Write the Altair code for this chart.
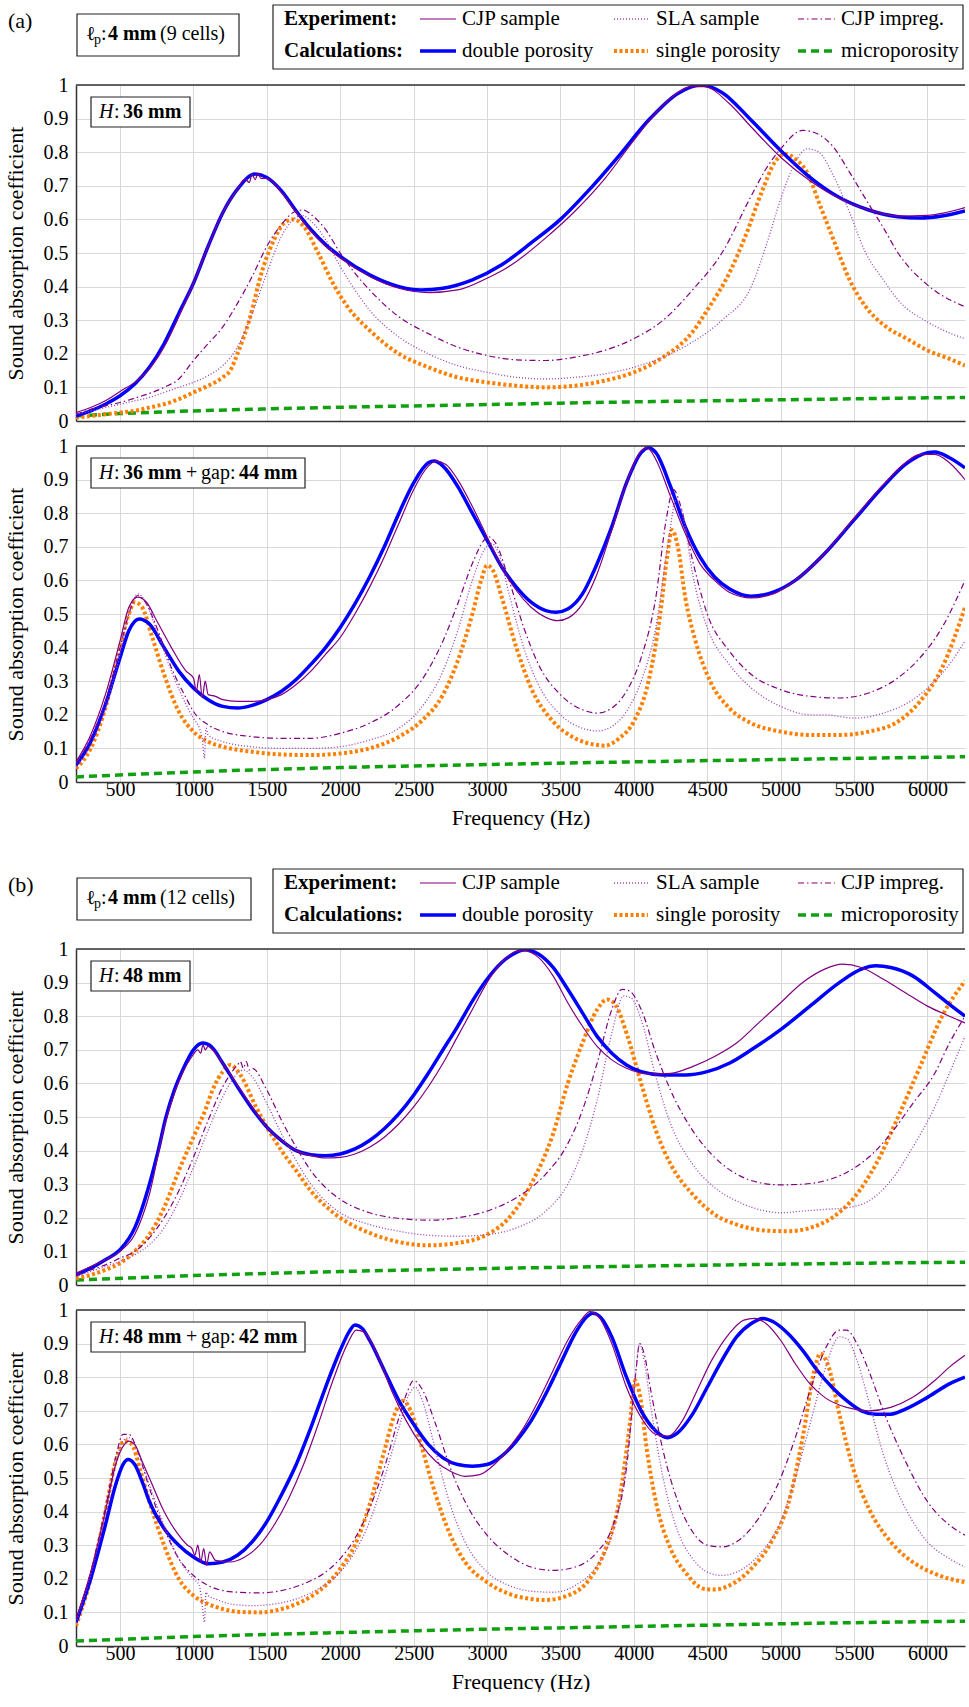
import altair as alt
import pandas as pd

FONT = "Liberation Serif"
X_TICKS = [500, 1000, 1500, 2000, 2500, 3000, 3500, 4000, 4500, 5000, 5500, 6000]
Y_TICKS = [0, 0.1, 0.2, 0.3, 0.4, 0.5, 0.6, 0.7, 0.8, 0.9, 1]
F_MIN, F_MAX = 200, 6256
W, H = 889, 336

# ---------------- panel (a) top : H 36 mm ----------------
a1_cjp = [(200,0.025),(300,0.04),(400,0.06),(500,0.088),(600,0.115),(700,0.155),(800,0.22),(900,0.31),(1000,0.41),(1100,0.52),(1200,0.62),(1300,0.69),(1350,0.72),(1380,0.71),(1400,0.735),(1420,0.718),(1440,0.738),(1460,0.722),(1500,0.722),(1600,0.68),(1700,0.62),(1800,0.565),(1900,0.52),(2000,0.485),(2200,0.43),(2400,0.395),(2600,0.382),(2800,0.39),(3000,0.425),(3100,0.447),(3200,0.475),(3400,0.545),(3600,0.625),(3800,0.72),(4000,0.835),(4200,0.94),(4400,0.995),(4480,0.995),(4650,0.945),(4800,0.875),(5000,0.785),(5200,0.715),(5400,0.662),(5600,0.628),(5800,0.61),(6000,0.612),(6256,0.635)]
a1_sla = [(200,0.02),(300,0.03),(400,0.04),(500,0.05),(600,0.06),(700,0.07),(800,0.085),(900,0.1),(1000,0.115),(1100,0.135),(1200,0.165),(1300,0.22),(1400,0.32),(1500,0.44),(1600,0.55),(1680,0.6),(1740,0.612),(1800,0.595),(1900,0.54),(2000,0.46),(2100,0.39),(2200,0.33),(2400,0.25),(2600,0.2),(2800,0.165),(3000,0.145),(3200,0.13),(3400,0.125),(3600,0.13),(3800,0.14),(4000,0.16),(4200,0.19),(4400,0.235),(4600,0.3),(4800,0.4),(4900,0.52),(5000,0.66),(5100,0.77),(5180,0.81),(5260,0.8),(5360,0.73),(5470,0.62),(5580,0.5),(5700,0.42),(5800,0.36),(6000,0.295),(6150,0.262),(6256,0.245)]
a1_imp = [(200,0.02),(300,0.035),(400,0.045),(500,0.055),(600,0.068),(700,0.082),(800,0.1),(900,0.125),(1000,0.18),(1100,0.23),(1200,0.28),(1300,0.35),(1400,0.43),(1500,0.52),(1600,0.585),(1700,0.625),(1750,0.628),(1800,0.615),(1900,0.57),(2000,0.5),(2100,0.44),(2200,0.39),(2400,0.31),(2600,0.26),(2800,0.22),(3000,0.195),(3200,0.182),(3400,0.18),(3600,0.19),(3800,0.21),(4000,0.245),(4200,0.3),(4400,0.39),(4600,0.5),(4800,0.67),(4900,0.75),(5000,0.81),(5150,0.865),(5250,0.855),(5360,0.815),(5470,0.74),(5580,0.66),(5700,0.575),(5800,0.5),(6000,0.405),(6256,0.34)]
a1_dp = [(200,0.015),(300,0.03),(400,0.05),(500,0.075),(600,0.11),(700,0.16),(800,0.23),(900,0.32),(1000,0.41),(1100,0.52),(1200,0.62),(1300,0.69),(1420,0.735),(1500,0.725),(1600,0.685),(1700,0.625),(1800,0.57),(1900,0.525),(2000,0.49),(2200,0.435),(2400,0.4),(2550,0.39),(2700,0.395),(2900,0.42),(3100,0.465),(3300,0.53),(3500,0.6),(3700,0.69),(3900,0.79),(4100,0.895),(4300,0.975),(4460,1.0),(4600,0.978),(4800,0.895),(5000,0.805),(5200,0.725),(5400,0.665),(5600,0.628),(5800,0.608),(5950,0.604),(6100,0.61),(6256,0.625)]
a1_sp = [(200,0.01),(300,0.015),(400,0.02),(500,0.025),(600,0.03),(700,0.04),(800,0.05),(900,0.065),(1000,0.085),(1100,0.105),(1200,0.13),(1250,0.15),(1300,0.2),(1380,0.3),(1470,0.45),(1550,0.54),(1620,0.59),(1680,0.6),(1750,0.58),(1850,0.5),(1950,0.41),(2050,0.34),(2200,0.27),(2400,0.2),(2600,0.16),(2800,0.13),(3000,0.115),(3200,0.105),(3400,0.1),(3600,0.105),(3800,0.12),(4000,0.145),(4200,0.19),(4400,0.265),(4500,0.33),(4650,0.44),(4760,0.55),(4870,0.68),(4960,0.77),(5035,0.795),(5100,0.78),(5180,0.74),(5270,0.64),(5360,0.54),(5470,0.42),(5580,0.34),(5720,0.28),(5860,0.245),(6000,0.21),(6150,0.185),(6256,0.165)]
a1_mp = [(200,0.015),(500,0.022),(1000,0.03),(1500,0.036),(2000,0.041),(2500,0.045),(3000,0.049),(3500,0.053),(4000,0.057),(4500,0.06),(5000,0.063),(5500,0.066),(6000,0.069),(6256,0.07)]

# ---------------- panel (a) bottom : H 36 mm + gap 44 mm ----------------
a2_cjp = [(200,0.06),(300,0.14),(400,0.26),(500,0.42),(560,0.52),(620,0.55),(680,0.535),(750,0.48),(850,0.4),(950,0.33),(1000,0.31),(1020,0.27),(1040,0.32),(1060,0.25),(1080,0.3),(1100,0.26),(1150,0.255),(1200,0.245),(1300,0.24),(1400,0.24),(1500,0.245),(1600,0.26),(1700,0.29),(1800,0.33),(1900,0.38),(2000,0.43),(2100,0.5),(2200,0.58),(2300,0.67),(2400,0.77),(2500,0.87),(2600,0.94),(2650,0.955),(2720,0.945),(2800,0.9),(2900,0.82),(3000,0.73),(3100,0.64),(3200,0.57),(3300,0.52),(3400,0.49),(3480,0.48),(3560,0.49),(3650,0.53),(3750,0.62),(3850,0.75),(3950,0.89),(4050,0.985),(4090,0.995),(4150,0.96),(4250,0.85),(4350,0.74),(4450,0.65),(4550,0.6),(4650,0.565),(4800,0.548),(4950,0.56),(5100,0.6),(5300,0.68),(5500,0.785),(5700,0.885),(5850,0.95),(5950,0.975),(6050,0.975),(6150,0.95),(6256,0.9)]
a2_sla = [(200,0.045),(300,0.11),(400,0.22),(500,0.38),(560,0.5),(620,0.56),(680,0.53),(750,0.45),(850,0.33),(950,0.23),(1000,0.19),(1040,0.16),(1060,0.13),(1075,0.07),(1085,0.16),(1100,0.14),(1200,0.12),(1300,0.11),(1400,0.105),(1600,0.1),(1800,0.1),(2000,0.105),(2200,0.125),(2400,0.16),(2550,0.22),(2700,0.33),(2800,0.45),(2900,0.6),(2980,0.69),(3030,0.71),(3080,0.68),(3150,0.56),(3250,0.4),(3350,0.29),(3500,0.2),(3650,0.16),(3750,0.152),(3850,0.165),(3950,0.21),(4050,0.3),(4150,0.46),(4230,0.7),(4290,0.84),(4340,0.78),(4400,0.62),(4500,0.46),(4650,0.35),(4800,0.28),(5000,0.225),(5200,0.2),(5300,0.2),(5500,0.19),(5700,0.205),(5900,0.245),(6050,0.3),(6150,0.35),(6256,0.42)]
a2_imp = [(200,0.055),(300,0.13),(400,0.24),(500,0.4),(560,0.5),(620,0.555),(680,0.53),(750,0.46),(850,0.34),(950,0.25),(1000,0.21),(1100,0.17),(1200,0.15),(1400,0.135),(1600,0.13),(1800,0.13),(2000,0.145),(2200,0.175),(2400,0.23),(2550,0.3),(2700,0.42),(2800,0.53),(2900,0.65),(2980,0.72),(3010,0.73),(3060,0.71),(3150,0.6),(3250,0.46),(3350,0.35),(3500,0.26),(3650,0.215),(3750,0.205),(3850,0.22),(3950,0.27),(4050,0.37),(4150,0.55),(4220,0.78),(4270,0.87),(4320,0.82),(4400,0.66),(4500,0.5),(4650,0.39),(4800,0.32),(5000,0.275),(5200,0.255),(5400,0.25),(5600,0.265),(5800,0.31),(5950,0.37),(6100,0.46),(6256,0.6)]
a2_dp = [(200,0.05),(300,0.12),(400,0.23),(500,0.37),(560,0.45),(630,0.485),(700,0.47),(800,0.4),(900,0.33),(1000,0.28),(1100,0.245),(1200,0.225),(1300,0.22),(1400,0.228),(1500,0.245),(1600,0.27),(1700,0.305),(1800,0.35),(1900,0.4),(2000,0.46),(2100,0.53),(2200,0.61),(2300,0.7),(2400,0.8),(2500,0.89),(2600,0.95),(2640,0.955),(2700,0.94),(2800,0.88),(2900,0.8),(3000,0.72),(3100,0.64),(3200,0.58),(3300,0.535),(3400,0.51),(3470,0.505),(3550,0.515),(3650,0.56),(3750,0.65),(3850,0.76),(3950,0.89),(4050,0.98),(4100,0.995),(4150,0.98),(4250,0.88),(4350,0.76),(4450,0.67),(4550,0.61),(4650,0.575),(4800,0.553),(4950,0.565),(5100,0.6),(5300,0.68),(5500,0.78),(5700,0.88),(5850,0.945),(6000,0.98),(6050,0.982),(6150,0.965),(6256,0.935)]
a2_sp = [(200,0.04),(300,0.1),(400,0.22),(500,0.4),(560,0.5),(600,0.535),(650,0.52),(720,0.43),(800,0.32),(900,0.21),(1000,0.15),(1100,0.12),(1200,0.105),(1400,0.09),(1600,0.082),(1800,0.08),(2000,0.085),(2200,0.1),(2400,0.135),(2550,0.18),(2700,0.26),(2800,0.36),(2900,0.5),(2960,0.6),(3000,0.645),(3040,0.63),(3100,0.55),(3200,0.4),(3300,0.28),(3450,0.18),(3600,0.13),(3750,0.11),(3800,0.108),(3900,0.13),(4000,0.18),(4100,0.3),(4180,0.5),(4230,0.68),(4260,0.75),(4300,0.7),(4350,0.55),(4420,0.42),(4520,0.3),(4650,0.22),(4800,0.175),(5000,0.15),(5200,0.14),(5400,0.14),(5600,0.15),(5800,0.18),(5950,0.24),(6100,0.34),(6256,0.52)]
a2_mp = [(200,0.015),(1000,0.03),(2000,0.043),(3000,0.052),(4000,0.06),(5000,0.067),(6256,0.075)]

# ---------------- panel (b) top : H 48 mm ----------------
b1_cjp = [(200,0.035),(300,0.055),(400,0.075),(500,0.1),(600,0.15),(700,0.27),(800,0.47),(870,0.57),(930,0.635),(990,0.68),(1030,0.7),(1050,0.69),(1065,0.715),(1080,0.7),(1100,0.71),(1130,0.7),(1200,0.66),(1300,0.595),(1400,0.53),(1500,0.47),(1600,0.43),(1700,0.4),(1800,0.385),(1900,0.378),(2000,0.38),(2100,0.39),(2200,0.41),(2300,0.44),(2400,0.48),(2500,0.53),(2600,0.59),(2700,0.66),(2800,0.74),(2900,0.82),(3000,0.9),(3100,0.96),(3200,0.993),(3250,0.995),(3350,0.975),(3450,0.92),(3550,0.84),(3650,0.77),(3750,0.71),(3850,0.67),(3950,0.645),(4100,0.628),(4250,0.63),(4400,0.65),(4550,0.68),(4700,0.72),(4850,0.78),(5000,0.84),(5150,0.9),(5300,0.94),(5420,0.955),(5550,0.945),(5700,0.91),(5850,0.87),(6000,0.83),(6150,0.8),(6256,0.78)]
b1_sla = [(200,0.025),(300,0.04),(400,0.055),(500,0.07),(600,0.09),(700,0.12),(800,0.17),(900,0.25),(1000,0.35),(1100,0.46),(1200,0.56),(1280,0.62),(1340,0.64),(1400,0.62),(1500,0.54),(1600,0.45),(1700,0.37),(1800,0.3),(1900,0.25),(2000,0.215),(2200,0.18),(2400,0.16),(2600,0.148),(2800,0.145),(3000,0.15),(3200,0.17),(3400,0.22),(3550,0.3),(3650,0.4),(3750,0.55),(3850,0.75),(3930,0.86),(3980,0.855),(4050,0.79),(4150,0.62),(4250,0.48),(4400,0.36),(4550,0.29),(4700,0.25),(4900,0.22),(5000,0.215),(5150,0.22),(5300,0.225),(5450,0.23),(5600,0.25),(5750,0.31),(5900,0.41),(6050,0.53),(6150,0.63),(6256,0.74)]
b1_imp = [(200,0.03),(300,0.045),(400,0.06),(500,0.08),(600,0.1),(700,0.14),(800,0.2),(900,0.28),(1000,0.38),(1100,0.49),(1200,0.59),(1280,0.645),(1300,0.655),(1320,0.665),(1340,0.645),(1360,0.665),(1380,0.64),(1400,0.645),(1500,0.58),(1600,0.49),(1700,0.41),(1800,0.34),(1900,0.29),(2000,0.255),(2200,0.215),(2400,0.198),(2600,0.193),(2800,0.2),(3000,0.22),(3200,0.26),(3400,0.33),(3550,0.42),(3650,0.52),(3750,0.66),(3850,0.82),(3920,0.88),(3970,0.875),(4050,0.82),(4150,0.69),(4250,0.58),(4400,0.46),(4550,0.38),(4700,0.33),(4850,0.305),(5000,0.298),(5150,0.3),(5300,0.31),(5450,0.335),(5600,0.38),(5750,0.45),(5900,0.54),(6050,0.63),(6150,0.72),(6256,0.8)]
b1_dp = [(200,0.03),(300,0.05),(400,0.075),(500,0.105),(600,0.17),(700,0.3),(760,0.4),(813,0.5),(870,0.58),(927,0.64),(1000,0.7),(1063,0.72),(1120,0.71),(1200,0.66),(1300,0.59),(1400,0.525),(1500,0.47),(1600,0.43),(1700,0.4),(1800,0.388),(1900,0.385),(2000,0.39),(2100,0.405),(2200,0.43),(2300,0.465),(2400,0.51),(2500,0.565),(2600,0.63),(2700,0.7),(2800,0.77),(2900,0.845),(3000,0.91),(3100,0.96),(3200,0.99),(3260,0.998),(3350,0.985),(3450,0.945),(3550,0.88),(3650,0.81),(3750,0.74),(3850,0.69),(3950,0.655),(4050,0.635),(4200,0.625),(4350,0.625),(4500,0.635),(4650,0.66),(4800,0.7),(5000,0.76),(5200,0.83),(5400,0.9),(5550,0.94),(5650,0.95),(5750,0.945),(5900,0.92),(6050,0.87),(6150,0.835),(6256,0.8)]
b1_sp = [(200,0.02),(300,0.03),(400,0.045),(500,0.065),(600,0.1),(700,0.15),(800,0.23),(900,0.34),(1000,0.44),(1080,0.52),(1130,0.58),(1200,0.635),(1250,0.655),(1320,0.625),(1426,0.53),(1500,0.47),(1600,0.4),(1700,0.34),(1800,0.28),(1900,0.235),(2000,0.2),(2200,0.155),(2400,0.128),(2600,0.118),(2800,0.125),(3000,0.15),(3150,0.2),(3300,0.3),(3450,0.45),(3550,0.6),(3650,0.72),(3750,0.82),(3820,0.85),(3880,0.83),(3950,0.75),(4050,0.6),(4150,0.46),(4250,0.36),(4400,0.27),(4550,0.21),(4700,0.18),(4900,0.162),(5050,0.16),(5200,0.17),(5350,0.2),(5500,0.26),(5650,0.36),(5800,0.5),(5950,0.65),(6100,0.8),(6256,0.905)]
b1_mp = [(200,0.015),(1000,0.028),(2000,0.04),(3000,0.049),(4000,0.056),(5000,0.062),(6256,0.068)]

# ---------------- panel (b) bottom : H 48 mm + gap 42 mm ----------------
b2_cjp = [(200,0.08),(300,0.22),(400,0.4),(470,0.54),(530,0.6),(560,0.61),(600,0.6),(650,0.55),(700,0.5),(800,0.4),(900,0.33),(960,0.3),(990,0.29),(1010,0.27),(1030,0.3),(1050,0.25),(1070,0.29),(1090,0.24),(1110,0.28),(1150,0.255),(1250,0.25),(1350,0.265),(1450,0.3),(1550,0.36),(1650,0.44),(1750,0.54),(1850,0.66),(1950,0.79),(2050,0.9),(2110,0.94),(2160,0.935),(2250,0.87),(2350,0.76),(2450,0.67),(2550,0.6),(2650,0.55),(2750,0.52),(2850,0.505),(2950,0.51),(3050,0.54),(3150,0.59),(3250,0.65),(3350,0.73),(3450,0.82),(3550,0.91),(3650,0.975),(3700,0.995),(3760,0.98),(3850,0.9),(3950,0.77),(4050,0.68),(4150,0.63),(4230,0.625),(4330,0.67),(4430,0.76),(4530,0.85),(4650,0.93),(4750,0.97),(4820,0.975),(4900,0.96),(5000,0.91),(5100,0.84),(5200,0.78),(5300,0.74),(5450,0.71),(5600,0.7),(5750,0.71),(5900,0.74),(6050,0.79),(6150,0.83),(6256,0.865)]
b2_sla = [(200,0.07),(300,0.21),(400,0.39),(470,0.54),(520,0.61),(560,0.62),(620,0.58),(700,0.48),(800,0.36),(900,0.26),(1000,0.2),(1040,0.18),(1060,0.12),(1075,0.07),(1085,0.16),(1100,0.15),(1150,0.14),(1250,0.125),(1400,0.12),(1550,0.125),(1700,0.14),(1850,0.17),(2000,0.22),(2100,0.28),(2200,0.37),(2300,0.5),(2400,0.65),(2470,0.75),(2510,0.77),(2560,0.73),(2650,0.58),(2750,0.42),(2850,0.31),(3000,0.22),(3150,0.18),(3300,0.163),(3450,0.16),(3600,0.18),(3750,0.24),(3850,0.33),(3950,0.55),(4010,0.8),(4040,0.9),(4070,0.85),(4120,0.7),(4200,0.5),(4300,0.34),(4400,0.26),(4500,0.22),(4600,0.21),(4700,0.22),(4850,0.27),(5000,0.37),(5100,0.5),(5200,0.66),(5300,0.82),(5400,0.92),(5450,0.915),(5520,0.85),(5600,0.73),(5700,0.57),(5850,0.41),(6000,0.31),(6150,0.26),(6256,0.235)]
b2_imp = [(200,0.08),(300,0.22),(400,0.41),(470,0.56),(520,0.63),(560,0.63),(620,0.58),(700,0.47),(800,0.35),(900,0.26),(1000,0.21),(1100,0.18),(1200,0.165),(1300,0.16),(1450,0.158),(1600,0.165),(1750,0.185),(1900,0.22),(2000,0.26),(2100,0.32),(2200,0.41),(2300,0.53),(2400,0.68),(2460,0.76),(2500,0.79),(2550,0.77),(2650,0.66),(2750,0.53),(2850,0.43),(3000,0.33),(3150,0.27),(3300,0.235),(3450,0.225),(3600,0.235),(3750,0.28),(3850,0.35),(3950,0.53),(4010,0.8),(4040,0.9),(4070,0.87),(4120,0.75),(4200,0.58),(4300,0.43),(4400,0.34),(4500,0.3),(4600,0.295),(4700,0.31),(4850,0.38),(5000,0.5),(5100,0.62),(5200,0.76),(5300,0.88),(5400,0.94),(5450,0.94),(5520,0.9),(5600,0.82),(5700,0.7),(5850,0.55),(6000,0.43),(6150,0.36),(6256,0.33)]
b2_dp = [(200,0.07),(300,0.2),(400,0.36),(470,0.48),(520,0.54),(555,0.555),(600,0.54),(650,0.49),(700,0.43),(800,0.35),(900,0.3),(1000,0.265),(1100,0.245),(1200,0.25),(1300,0.27),(1400,0.31),(1500,0.37),(1600,0.45),(1700,0.54),(1800,0.65),(1900,0.77),(2000,0.88),(2060,0.935),(2100,0.955),(2150,0.945),(2200,0.91),(2300,0.82),(2400,0.73),(2500,0.66),(2600,0.6),(2700,0.56),(2800,0.54),(2900,0.535),(3000,0.54),(3100,0.565),(3200,0.61),(3300,0.67),(3400,0.75),(3500,0.84),(3600,0.93),(3680,0.98),(3720,0.99),(3780,0.975),(3850,0.92),(3950,0.8),(4050,0.7),(4150,0.64),(4230,0.62),(4300,0.635),(4400,0.69),(4500,0.77),(4600,0.85),(4700,0.92),(4800,0.96),(4880,0.975),(4950,0.965),(5050,0.93),(5150,0.88),(5250,0.82),(5350,0.77),(5450,0.73),(5550,0.7),(5650,0.69),(5750,0.69),(5850,0.705),(6000,0.74),(6150,0.78),(6256,0.8)]
b2_sp = [(200,0.06),(300,0.2),(400,0.4),(470,0.55),(530,0.61),(580,0.6),(640,0.52),(700,0.43),(800,0.3),(900,0.2),(1000,0.15),(1100,0.125),(1200,0.11),(1300,0.102),(1450,0.1),(1600,0.11),(1750,0.135),(1900,0.18),(2000,0.23),(2100,0.3),(2200,0.42),(2300,0.58),(2380,0.7),(2430,0.73),(2480,0.7),(2550,0.6),(2650,0.45),(2750,0.33),(2850,0.25),(3000,0.19),(3150,0.155),(3300,0.14),(3400,0.137),(3550,0.15),(3700,0.2),(3800,0.28),(3900,0.43),(3970,0.65),(4010,0.79),(4040,0.75),(4090,0.58),(4150,0.43),(4250,0.29),(4350,0.22),(4480,0.17),(4550,0.168),(4650,0.18),(4800,0.23),(4950,0.32),(5050,0.42),(5150,0.62),(5230,0.82),(5270,0.87),(5320,0.84),(5400,0.69),(5500,0.52),(5600,0.41),(5750,0.31),(5900,0.25),(6050,0.215),(6256,0.19)]
b2_mp = [(200,0.015),(1000,0.028),(2000,0.04),(3000,0.05),(4000,0.058),(5000,0.066),(6256,0.074)]

PANELS = {
    "a1": {"mp": a1_mp, "sp": a1_sp, "dp": a1_dp, "imp": a1_imp, "sla": a1_sla, "cjp": a1_cjp},
    "a2": {"mp": a2_mp, "sp": a2_sp, "dp": a2_dp, "imp": a2_imp, "sla": a2_sla, "cjp": a2_cjp},
    "b1": {"mp": b1_mp, "sp": b1_sp, "dp": b1_dp, "imp": b1_imp, "sla": b1_sla, "cjp": b1_cjp},
    "b2": {"mp": b2_mp, "sp": b2_sp, "dp": b2_dp, "imp": b2_imp, "sla": b2_sla, "cjp": b2_cjp},
}

STYLE = {
    "cjp": dict(color="#800080", strokeWidth=1.2),
    "sla": dict(color="#9b3fb5", strokeWidth=1.3, strokeDash=[1, 2]),
    "imp": dict(color="#800080", strokeWidth=1.2, strokeDash=[6, 3, 1.5, 3]),
    "dp": dict(color="#0000ff", strokeWidth=3.5),
    "sp": dict(color="#ff8000", strokeWidth=4, strokeDash=[3, 2.5]),
    "mp": dict(color="#10a010", strokeWidth=3.5, strokeDash=[8, 5]),
}
ORDER = ["mp", "sp", "dp", "imp", "sla", "cjp"]

rows = []
for pid, sers in PANELS.items():
    for key, pts in sers.items():
        for f, v in pts:
            rows.append({"panel": pid, "series": key, "f": f, "v": v})
df = pd.DataFrame(rows)
one = pd.DataFrame({"k": [0]})


def txt(s, x, y, size=20, weight="normal", style="normal", align="left"):
    return alt.Chart(one).mark_text(
        text=s, align=align, baseline="middle", font=FONT, fontSize=size,
        fontWeight=weight, fontStyle=style, color="black"
    ).encode(x=alt.value(x), y=alt.value(y))


def rect(x1, x2, y1, y2):
    return alt.Chart(one).mark_rect(fill="white", stroke="#222", strokeWidth=1.2).encode(
        x=alt.value(x1), x2=alt.value(x2), y=alt.value(y1), y2=alt.value(y2))


def hline(x1, x2, y, color, width, dash=None):
    kw = dict(color=color, strokeWidth=width)
    if dash:
        kw["strokeDash"] = dash
    return alt.Chart(one).mark_rule(**kw).encode(x=alt.value(x1), x2=alt.value(x2), y=alt.value(y))


def header(tag, cells, box_r):
    L = [txt(tag, -68, -64, size=22)]
    L.append(rect(1, box_r, -71, -29))
    L += [txt("\u2113", 10, -51, size=20), txt("p", 18, -45, size=14), txt(":", 25, -51),
          txt("4 mm", 32, -51, weight="bold"), txt(cells, 84, -51)]
    L.append(rect(197, 887, -80, -16))
    r1, r2 = -66, -34
    L += [txt("Experiment:", 208, r1, size=21, weight="bold"),
          txt("Calculations:", 208, r2, size=21, weight="bold")]
    cols = [(344, 380, 386), (538, 572, 580), (722, 759, 765)]
    exp = [("cjp", "CJP sample"), ("sla", "SLA sample"), ("imp", "CJP impreg.")]
    cal = [("dp", "double porosity"), ("sp", "single porosity"), ("mp", "microporosity")]
    for (xa, xb, xt), (k1, t1), (k2, t2) in zip(cols, exp, cal):
        s1, s2 = STYLE[k1], STYLE[k2]
        L.append(hline(xa, xb, r1, s1["color"], s1["strokeWidth"], s1.get("strokeDash")))
        L.append(txt(t1, xt, r1, size=21))
        L.append(hline(xa, xb, r2, s2["color"], s2["strokeWidth"], s2.get("strokeDash")))
        L.append(txt(t2, xt, r2, size=21))
    return L


def annot(h, gap):
    y = 27
    if gap is None:
        L = [rect(15, 114, 12, 42)]
        L += [txt("H", 23, y, style="italic"), txt(":", 38, y), txt(h, 47, y, weight="bold")]
    else:
        L = [rect(15, 229, 12, 42)]
        L += [txt("H", 23, y, style="italic"), txt(":", 38, y), txt(h, 47, y, weight="bold"),
              txt("+", 110, y), txt("gap:", 125, y), txt(gap, 163, y, weight="bold")]
    return L


def panel(pid, bottom, extra):
    xaxis = alt.Axis(values=X_TICKS, format="d", grid=True, ticks=False, tickSize=0, labels=bottom,
                     labelPadding=-3, titlePadding=8, domain=True,
                     labelFont=FONT, labelFontSize=20, titleFont=FONT, titleFontSize=22,
                     titleFontWeight="normal", labelColor="black", titleColor="black")
    X = alt.X("f:Q", scale=alt.Scale(domain=[F_MIN, F_MAX], nice=False, zero=False),
              axis=xaxis, title="Frequency (Hz)" if bottom else None)
    Y = alt.Y("v:Q", scale=alt.Scale(domain=[0, 1], nice=False, zero=False),
              axis=alt.Axis(values=Y_TICKS, format=".1~f", grid=True, ticks=False, tickSize=0,
                            labelPadding=8, titlePadding=16,
                            labelFont=FONT, labelFontSize=20, titleFont=FONT, titleFontSize=22,
                            titleFontWeight="normal", labelColor="black", titleColor="black"),
              title="Sound absorption coefficient")
    layers = []
    for key in ORDER:
        st = STYLE[key]
        kw = dict(color=st["color"], strokeWidth=st["strokeWidth"], interpolate="monotone", clip=True)
        if "strokeDash" in st:
            kw["strokeDash"] = st["strokeDash"]
        layers.append(
            alt.Chart(df).transform_filter(
                (alt.datum.panel == pid) & (alt.datum.series == key)
            ).mark_line(**kw).encode(x=X, y=Y)
        )
    layers.append(hline(0, W, 0, "#333", 1.5))
    layers += extra
    return alt.layer(*layers).properties(width=W, height=H)


A1 = panel("a1", False, annot("36 mm", None) + header("(a)", "(9 cells)", 163))
A2 = panel("a2", True, annot("36 mm", "44 mm"))
B1 = panel("b1", False, annot("48 mm", None) + header("(b)", "(12 cells)", 175))
B2 = panel("b2", True, annot("48 mm", "42 mm"))

chart = alt.vconcat(
    alt.vconcat(A1, A2, spacing=5),
    alt.vconcat(B1, B2, spacing=5),
    spacing=40,
).properties(
    padding={"top": 4, "left": 4, "right": 0, "bottom": 0}
).configure(font=FONT).configure_view(stroke=None).configure_axis(
    labelFont=FONT, labelFontSize=20, labelColor="black",
    titleFont=FONT, titleFontSize=22, titleFontWeight="normal", titleColor="black",
    gridColor="#d9d9d9", gridWidth=1, domainColor="#333", domainWidth=1.5,
)

chart.save("out.html", embed_options={"renderer": "svg", "actions": False})
